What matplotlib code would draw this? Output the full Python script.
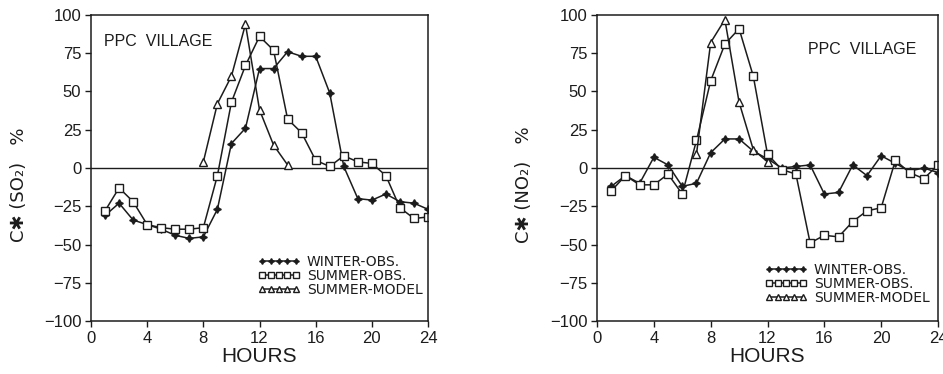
import numpy as np
import matplotlib
matplotlib.use('Agg')
import matplotlib.pyplot as plt

# Hours of the day (1..24)
hours = list(range(1, 25))

# SO2 panel (left)
so2_winter_obs = [-31, -23, -34, -37, -40, -44, -46, -45, -27, 16, 26, 65,
                  65, 76, 73, 73, 49, 1, -20, -21, -17, -22, -23, -27]
so2_summer_obs = [-28, -13, -22, -37, -39, -40, -40, -39, -5, 43, 67, 86,
                  77, 32, 23, 5, 1, 8, 4, 3, -5, -26, -33, -32]
so2_model_hours = [8, 9, 10, 11, 12, 13, 14]
so2_summer_model = [4, 42, 60, 94, 38, 15, 2]

# NO2 panel (right)
no2_winter_obs = [-12, -5, -10, 7, 2, -12, -10, 10, 19, 19, 11, 6,
                  0, 1, 2, -17, -16, 2, -5, 8, 3, -2, 0, -3]
no2_summer_obs = [-15, -5, -11, -11, -4, -17, 18, 57, 81, 91, 60, 9,
                  -1, -4, -49, -44, -45, -35, -28, -26, 5, -3, -7, 2]
no2_model_hours = [7, 8, 9, 10, 11, 12]
no2_summer_model = [9, 82, 97, 43, 12, 4]

series_labels = ['WINTER-OBS.', 'SUMMER-OBS.', 'SUMMER-MODEL']
x_ticks = [0, 4, 8, 12, 16, 20, 24]
y_ticks = [-100, -75, -50, -25, 0, 25, 50, 75, 100]

INK = '#1c1c1c'
TICK_FONT = ['Liberation Sans', 'DejaVu Sans']

plt.rcParams['font.family'] = TICK_FONT
plt.rcParams['axes.edgecolor'] = INK
plt.rcParams['text.color'] = INK

fig = plt.figure(figsize=(9.43, 3.74), dpi=100)
ax1 = fig.add_axes([0.0965, 0.1417, 0.3574, 0.8182])
ax2 = fig.add_axes([0.6331, 0.1417, 0.3616, 0.8182])


def draw_panel(ax, winter, summer, m_hours, model, species, place_xy, legend_xy):
    ax.plot(hours, winter, color=INK, lw=1.1, marker=(4, 1, 0), ms=5.5,
            mfc=INK, mec=INK, label=series_labels[0])
    ax.plot(hours, summer, color=INK, lw=1.1, marker='s', ms=6,
            mfc='white', mec=INK, mew=1.0, label=series_labels[1])
    ax.plot(m_hours, model, color=INK, lw=1.1, marker='^', ms=6,
            mfc='white', mec=INK, mew=1.0, label=series_labels[2])
    ax.axhline(0, color=INK, lw=1.0, zorder=0)

    ax.set_xlim(0, 24)
    ax.set_ylim(-100, 100)
    ax.set_xticks(x_ticks)
    ax.set_yticks(y_ticks)
    ax.set_yticklabels(['\u2212' + str(-v) if v < 0 else str(v) for v in y_ticks])
    ax.tick_params(direction='out', length=4.5, width=1.0, color=INK,
                   labelsize=12, labelcolor=INK, pad=2.5)
    for sp in ax.spines.values():
        sp.set_linewidth(1.1)

    ax.set_xlabel('HOURS', fontsize=15, labelpad=1, color=INK)
    # y label: C* (species)   %
    ax.text(-0.215, 0.445, 'C\u2731 (' + species + ')   %', transform=ax.transAxes,
            rotation=90, ha='center', va='center', fontsize=13,
            family=['DejaVu Sans'], color=INK)
    ax.text(place_xy[0], place_xy[1], 'PPC  VILLAGE', transform=ax.transAxes,
            ha='left', va='center', fontsize=11.5, color=INK)

    leg = ax.legend(loc='upper left', bbox_to_anchor=legend_xy, frameon=False,
                    numpoints=5, handlelength=3.0, handletextpad=0.5,
                    labelspacing=0.0, borderpad=0, borderaxespad=0,
                    markerscale=0.75, prop={'family': 'DejaVu Sans', 'size': 10})
    for t in leg.get_texts():
        t.set_color(INK)


draw_panel(ax1, so2_winter_obs, so2_summer_obs, so2_model_hours, so2_summer_model,
           'SO\u2082', (0.04, 0.912), (0.496, 0.215))
draw_panel(ax2, no2_winter_obs, no2_summer_obs, no2_model_hours, no2_summer_model,
           'NO\u2082', (0.62, 0.888), (0.493, 0.19))

fig.savefig('out.png', dpi=100, facecolor='white')
